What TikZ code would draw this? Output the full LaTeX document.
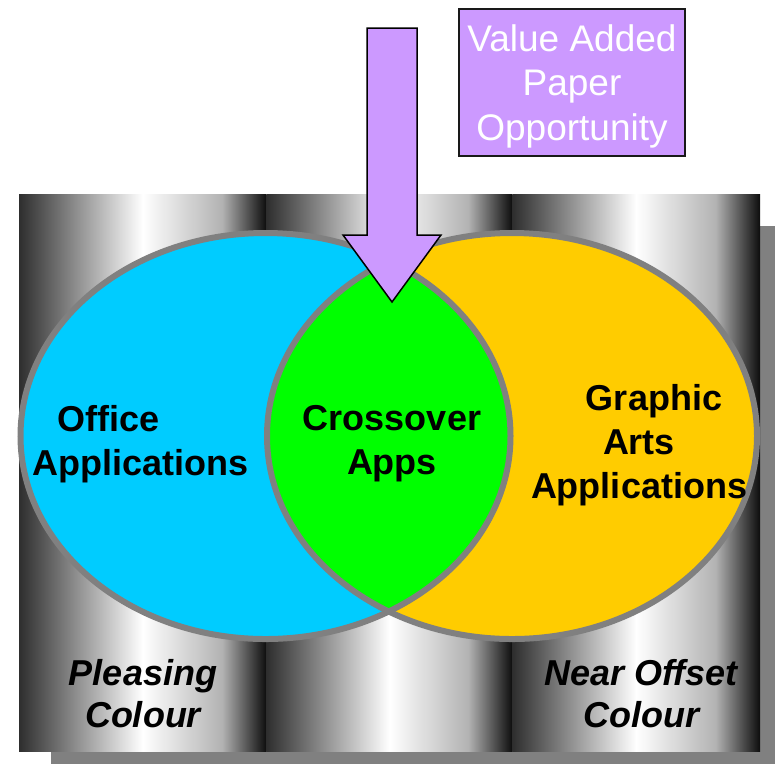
\documentclass[tikz,border=0pt]{standalone}
\usepackage{fontspec}
\setmainfont{Liberation Sans}

\definecolor{officeblue}{HTML}{00CCFF}
\definecolor{crossgreen}{HTML}{00FF00}
\definecolor{artsyellow}{HTML}{FFCC00}
\definecolor{lilac}{HTML}{CC99FF}
\definecolor{shadowgray}{HTML}{808080}
\definecolor{rimgray}{HTML}{808080}

% one vertical band of the rolled background: dark edge, white crest, black edge
\pgfdeclarehorizontalshading{drum}{100bp}{%
  color(0bp)=(black!82); color(25bp)=(black!82);
  color(50bp)=(white);
  color(66bp)=(black!30);
  color(75bp)=(black!95); color(100bp)=(black!95)}

\tikzset{
  band/.style={shading=drum},
  rim/.style={draw=rimgray, line width=6pt},
  setlabel/.style={font=\fontsize{36}{44}\selectfont\bfseries, text=black, inner sep=0pt},
  footlabel/.style={font=\fontsize{36}{42}\selectfont\bfseries\itshape, text=black, inner sep=0pt, align=center},
  notebox/.style={draw=black!90, line width=1.5pt, fill=lilac, inner sep=0pt,
    minimum width=226pt, minimum height=147pt},
  notetext/.style={text=white, font=\fontsize{37}{44.5}\selectfont, align=center, inner sep=0pt},
  blockarrow/.style={draw=black, line width=1.5pt, fill=lilac, line join=miter}
}

\begin{document}
\begin{tikzpicture}[x=1pt, y=-1pt]
  \useasboundingbox (0,0) rectangle (775,764);

  % drop shadow and banded backdrop
  \fill[shadowgray] (51,226) rectangle (775,764);
  \shade[band] (19,194) rectangle (266.5,751);
  \shade[band] (266.5,194) rectangle (512.5,751);
  \shade[band] (512.5,194) rectangle (760,751);

  % the two sets and their overlap
  \fill[officeblue] (265.5,436) ellipse [x radius=245, y radius=203];
  \fill[artsyellow] (512,436) ellipse [x radius=245, y radius=203];
  \begin{scope}
    \clip (265.5,436) ellipse [x radius=245, y radius=203];
    \fill[crossgreen] (512,436) ellipse [x radius=245, y radius=203];
  \end{scope}
  \draw[rim] (265.5,436) ellipse [x radius=245, y radius=203];
  \draw[rim] (512,436) ellipse [x radius=245, y radius=203];

  % downward block arrow into the overlap
  \draw[blockarrow] (367,28) -- (417,28) -- (417,235) -- (441,235)
    -- (392,302) -- (343,235) -- (367,235) -- cycle;

  \node[notebox] (vap) at (572,82.5) {};
  \node[notetext, anchor=base] (vaptext) at (572,140) {Value Added\\Paper\\Opportunity};

  % multi-line labels are anchored on the baseline of their last line
  \node[setlabel, align=left, anchor=base west] (office) at (32,475)
    {\hspace*{25pt}Office\\Applications};
  \node[setlabel, align=center, anchor=base] (cross) at (392,474)
    {Crossover\\Apps};
  \node[setlabel, align=center, anchor=base] (arts) at (639,498)
    {\hspace*{30pt}Graphic\\Arts\\Applications};

  \node[footlabel, anchor=base] (pleasing) at (143,727) {Pleasing\\Colour};
  \node[footlabel, anchor=base] (nearoff) at (641,727) {Near Offset\\Colour};
\end{tikzpicture}
\end{document}
